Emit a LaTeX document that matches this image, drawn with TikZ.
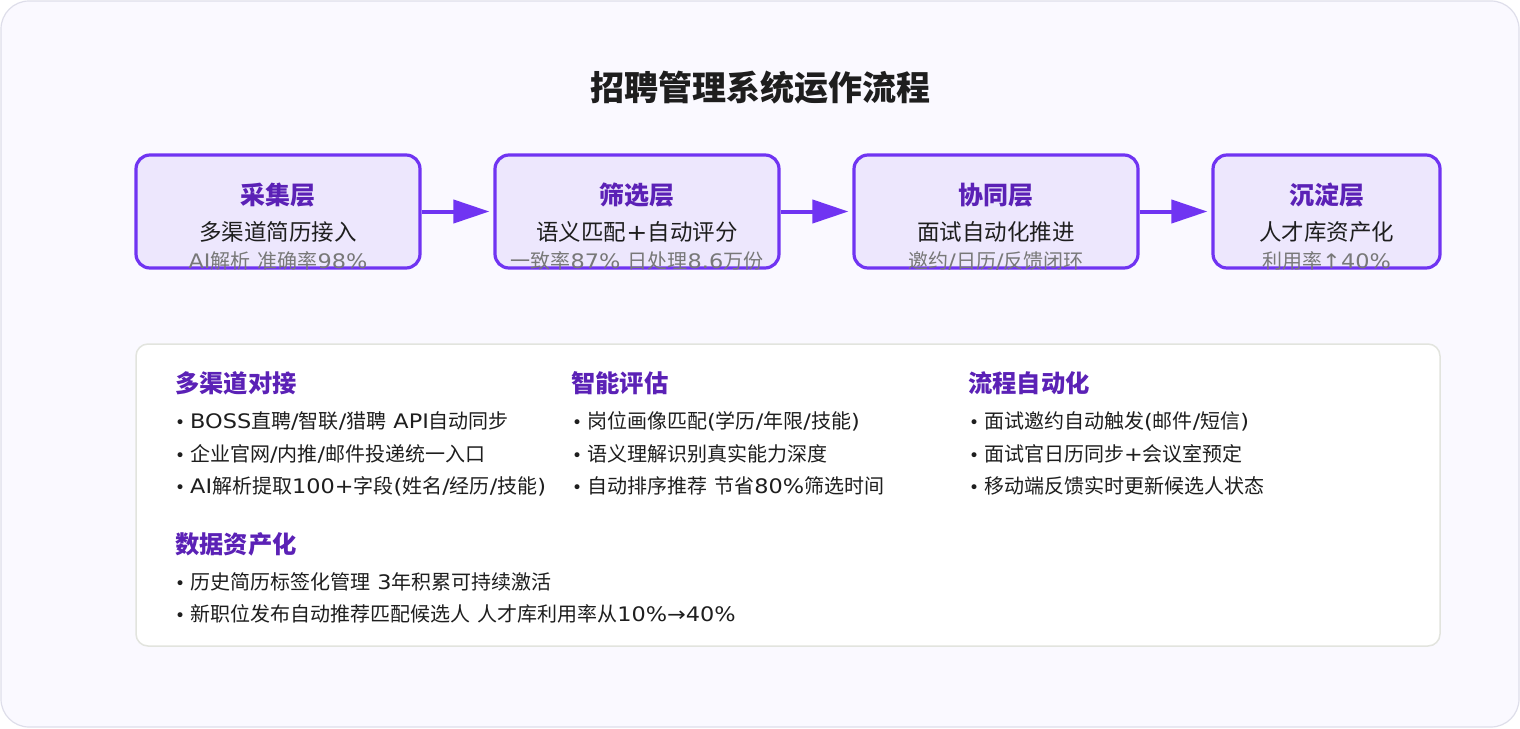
\documentclass[tikz,border=0pt]{standalone}
\usepackage{fontspec}
\setmainfont{Noto Sans CJK SC}
\newfontfamily\latf[FakeStretch=1.12]{DejaVu Sans}
\newfontfamily\dvf{DejaVu Sans}
\usetikzlibrary{arrows.meta}
\definecolor{bgc}{RGB}{250,249,255}
\definecolor{framec}{RGB}{222,222,234}
\definecolor{stageborder}{RGB}{112,52,242}
\definecolor{stagefill}{RGB}{237,231,253}
\definecolor{headc}{RGB}{91,33,182}
\definecolor{textc}{RGB}{30,30,30}
\definecolor{grayc}{RGB}{120,120,120}
\definecolor{panelborder}{RGB}{226,228,222}
\tikzset{
  outerframe/.style={draw=framec, line width=1.2pt, fill=bgc, rounded corners=28pt},
  stagebox/.style={draw=stageborder, line width=3.2pt, fill=stagefill, rounded corners=14pt, minimum height=113pt},
  stagetitle/.style={text=headc, font=\fontsize{25}{28}\selectfont\bfseries, inner sep=0pt},
  stagesub/.style={text=textc, font=\fontsize{22.5}{26}\selectfont, inner sep=0pt},
  stagenote/.style={text=grayc, font=\fontsize{20}{22}\selectfont, inner sep=0pt},
  flow/.style={draw=stageborder, line width=4pt, -{Triangle[length=36pt,width=23pt]}, shorten >=4pt},
  panel/.style={draw=panelborder, line width=1.5pt, fill=white, rounded corners=12pt},
  sechead/.style={text=headc, font=\fontsize{24.3}{27}\selectfont\bfseries, anchor=west, inner sep=0pt},
  bul/.style={text=textc, font=\fontsize{20}{24}\selectfont, anchor=west, inner sep=0pt},
}
\newcommand{\bt}{\llap{{\dvf\fontsize{17}{20}\selectfont •}\hspace{5pt}}}
\newcommand{\lt}[1]{{\latf #1}}
\begin{document}
\begin{tikzpicture}[x=1pt,y=-1pt]
\useasboundingbox (0,0) rectangle (1520,728);
\path[outerframe] (1,1) rectangle (1519,727);

\node[text=textc, font=\fontsize{34}{38}\selectfont\bfseries, inner sep=0pt] (title) at (760,88) {招聘管理系统运作流程};

\node[stagebox, minimum width=284pt] (b1) at (278,211.5) {};
\node[stagebox, minimum width=284pt] (b2) at (637,211.5) {};
\node[stagebox, minimum width=284pt] (b3) at (996,211.5) {};
\node[stagebox, minimum width=227pt] (b4) at (1326.5,211.5) {};

\node[stagetitle] (t1) at (278,195) {采集层};
\node[stagesub] (s1) at (278,232) {多渠道简历接入};
\node[stagenote] (n1) at (278,261) {\lt{AI}解析\lt{ }准确率\lt{98\%}};

\node[stagetitle] (t2) at (637,195) {筛选层};
\node[stagesub] (s2) at (637,232) {语义匹配\lt{+}自动评分};
\node[stagenote] (n2) at (637,261) {一致率\lt{87\% }日处理\lt{8.6}万份};

\node[stagetitle] (t3) at (996,195) {协同层};
\node[stagesub] (s3) at (996,232) {面试自动化推进};
\node[stagenote] (n3) at (996,261) {邀约\lt{/}日历\lt{/}反馈闭环};

\node[stagetitle] (t4) at (1326.5,195) {沉淀层};
\node[stagesub] (s4) at (1326.5,232) {人才库资产化};
\node[stagenote] (n4) at (1326.5,261) {利用率\lt{↑40\%}};

\draw[flow] (b1.east) -- (b2.west);
\draw[flow] (b2.east) -- (b3.west);
\draw[flow] (b3.east) -- (b4.west);

\node[panel, minimum width=1304pt, minimum height=302pt] (panel) at (788,495) {};

\node[sechead] (h1) at (175,383) {多渠道对接};
\node[bul] (l11) at (190,421) {\bt \lt{BOSS}直聘\lt{/}智联\lt{/}猎聘\lt{ API}自动同步};
\node[bul] (l12) at (190,453.5) {\bt 企业官网\lt{/}内推\lt{/}邮件投递统一入口};
\node[bul] (l13) at (190,486) {\bt \lt{AI}解析提取\lt{100+}字段\lt{(}姓名\lt{/}经历\lt{/}技能\lt{)}};

\node[sechead] (h2) at (571,383) {智能评估};
\node[bul] (l21) at (587,421) {\bt 岗位画像匹配\lt{(}学历\lt{/}年限\lt{/}技能\lt{)}};
\node[bul] (l22) at (587,453.5) {\bt 语义理解识别真实能力深度};
\node[bul] (l23) at (587,486) {\bt 自动排序推荐\lt{ }节省\lt{80\%}筛选时间};

\node[sechead] (h3) at (968,383) {流程自动化};
\node[bul] (l31) at (984,421) {\bt 面试邀约自动触发\lt{(}邮件\lt{/}短信\lt{)}};
\node[bul] (l32) at (984,453.5) {\bt 面试官日历同步\lt{+}会议室预定};
\node[bul] (l33) at (984,486) {\bt 移动端反馈实时更新候选人状态};

\node[sechead] (h4) at (175,544) {数据资产化};
\node[bul] (l41) at (190,582) {\bt 历史简历标签化管理\lt{ 3}年积累可持续激活};
\node[bul] (l42) at (190,614) {\bt 新职位发布自动推荐匹配候选人\lt{ }人才库利用率从\lt{10\%→40\%}};
\end{tikzpicture}
\end{document}
